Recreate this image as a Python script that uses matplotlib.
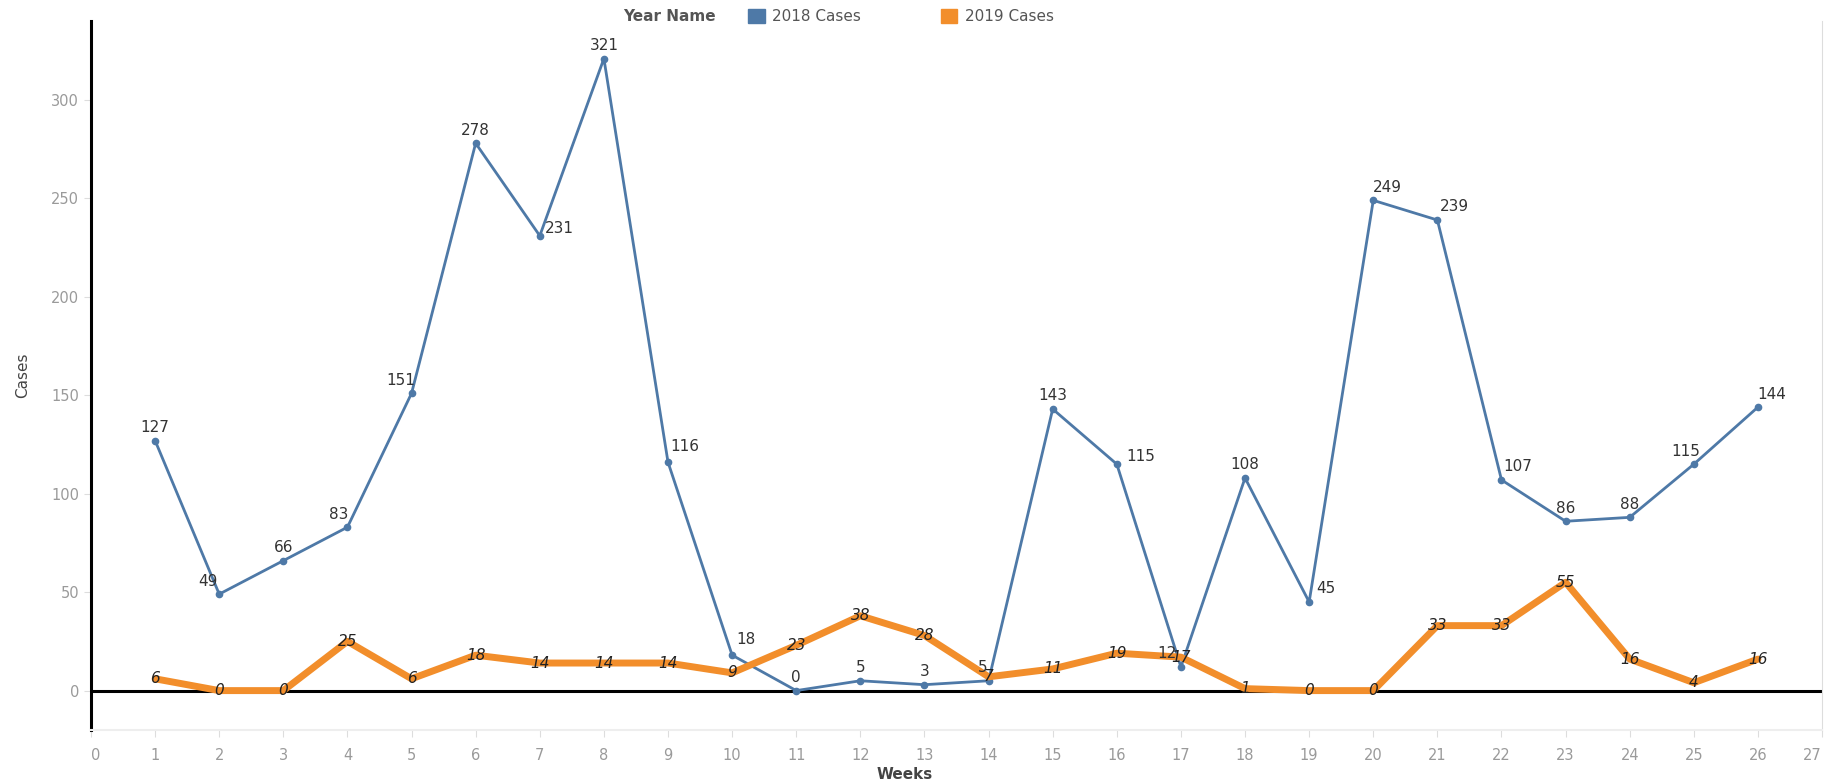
import matplotlib.pyplot as plt
from matplotlib.patches import Patch

# weekly cases
weeks = list(range(1, 27))
cases_2018 = [127, 49, 66, 83, 151, 278, 231, 321, 116, 18, 0, 5, 3, 5,
              143, 115, 12, 108, 45, 249, 239, 107, 86, 88, 115, 144]
cases_2019 = [6, 0, 0, 25, 6, 18, 14, 14, 14, 9, 23, 38, 28, 7,
              11, 19, 17, 1, 0, 0, 33, 33, 55, 16, 4, 16]
series_names = ['2018 Cases', '2019 Cases']
y_ticks = [0, 50, 100, 150, 200, 250, 300]
x_ticks = list(range(0, 28))

blue = '#4e79a7'
orange = '#f28e2b'
tick_grey = '#9a9a9a'

# label placement for the 2018 line (offsets in points), tableau-ish
label_offsets = {2: (-8, 4), 4: (-6, 4), 5: (-8, 4), 7: (14, 0), 9: (12, 6),
                 10: (10, 6), 14: (-4, 4), 16: (17, 0), 17: (-10, 4),
                 19: (12, 4), 20: (10, 4), 21: (12, 4), 22: (12, 4),
                 25: (-6, 4), 26: (10, 4)}

fig = plt.figure(figsize=(18.27, 7.84), dpi=100)
ax = fig.add_axes([0.0498, 0.0689, 0.9475, 0.9041])

ax.plot(weeks, cases_2018, color=blue, lw=2, marker='o', ms=4.5, zorder=3)
ax.plot(weeks, cases_2019, color=orange, lw=5, solid_joinstyle='round',
        solid_capstyle='round', zorder=4)
ax.axhline(0, color='black', lw=2.2, zorder=2)

for w, v in zip(weeks, cases_2018):
    dx, dy = label_offsets.get(w, (0, 4))
    ax.annotate(str(v), (w, v), xytext=(dx, dy), textcoords='offset points',
                ha='center', va='bottom', fontsize=11, color='#333333', zorder=6)

for w, v in zip(weeks, cases_2019):
    ax.annotate(str(v), (w, v), ha='center', va='center', fontsize=11,
                style='italic', color='#222222', zorder=6)

ax.set_xlim(0, 27)
ax.set_ylim(-20, 340)
ax.set_xticks(x_ticks)
ax.set_yticks(y_ticks)
ax.tick_params(axis='both', colors='#dddddd', labelcolor=tick_grey,
               labelsize=10.5, length=5)
ax.tick_params(axis='x', pad=8)
xlabels = ax.get_xticklabels()
xlabels[0].set_ha('left')
xlabels[-1].set_ha('right')

ax.spines['top'].set_visible(False)
ax.spines['left'].set_color('black')
ax.spines['left'].set_linewidth(2.2)
ax.spines['bottom'].set_color('#eeeeee')
ax.spines['bottom'].set_linewidth(1.5)
ax.spines['right'].set_color('#dddddd')

ax.set_xlabel('Weeks', fontsize=11, color='#444444', fontweight='bold')
ax.xaxis.set_label_coords(0.47, -0.052)
ax.set_ylabel('Cases', fontsize=11, color='#444444',
              family=['Liberation Sans Narrow', 'DejaVu Sans'])
ax.yaxis.set_label_coords(-0.035, 0.5)

fig.text(0.341, 0.979, 'Year Name', fontsize=11, fontweight='bold',
         color='#555555', va='center')
handles = [Patch(color=blue), Patch(color=orange)]
fig.legend(handles, series_names, ncol=2, loc='center left',
           bbox_to_anchor=(0.406, 0.979), frameon=False, fontsize=11,
           handlelength=1.1, handleheight=1.1, handletextpad=0.5,
           columnspacing=5.2, labelcolor='#555555', borderaxespad=0)

fig.savefig('out.png', dpi=100)
